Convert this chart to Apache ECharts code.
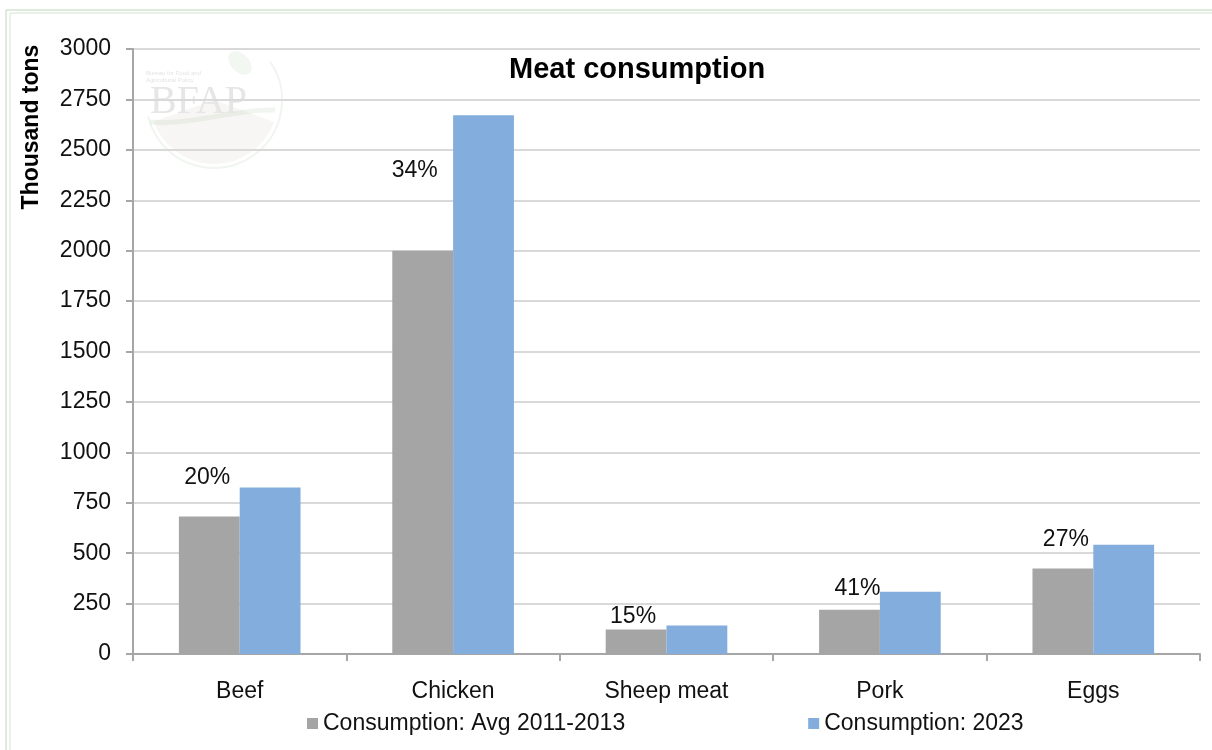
<!DOCTYPE html>
<html>
<head>
<meta charset="utf-8">
<script src="https://cdn.jsdelivr.net/npm/echarts@6/dist/echarts.min.js"></script>
<style>
html,body{margin:0;padding:0;background:#fff;}
#chart{width:1212px;height:750px;}
</style>
</head>
<body>
<div id="chart"></div>
<script>
var categories = ['Beef', 'Chicken', 'Sheep meat', 'Pork', 'Eggs'];
var avg2011_2013 = [682, 2000, 122, 219, 424];
var value2023 = [826, 2672, 141, 309, 542];
var growthLabels = ['20%', '34%', '15%', '41%', '27%'];
var seriesNames = ['Consumption: Avg 2011-2013', 'Consumption: 2023'];
var yTicks = { min: 0, max: 3000, interval: 250 };

var FONT = "'Liberation Sans', Arial, Helvetica, sans-serif";
// label lift above grey bar (px), per category
var labelLift = [27, 69, 1, 10, 17];
var labelShift = [-2, -8, -3, 8, 3];

var chart = echarts.init(document.getElementById('chart'), null, { renderer: 'canvas' });

var greyData = avg2011_2013.map(function (v, i) {
  return {
    value: v,
    label: {
      show: true,
      position: 'top',
      distance: labelLift[i],
      offset: [labelShift[i], 0],
      formatter: growthLabels[i],
      fontSize: 23,
      fontFamily: FONT,
      color: '#111'
    }
  };
});

var option = {
  backgroundColor: '#ffffff',
  animation: false,
  title: {
    text: 'Meat consumption',
    left: 509,
    top: 55,
    padding: 0,
    textStyle: { fontSize: 29, fontWeight: 'bold', fontFamily: FONT, color: '#000' }
  },
  legend: {
    left: 307,
    top: 712,
    padding: 0,
    itemGap: 183,
    itemWidth: 11,
    itemHeight: 11,
    icon: 'rect',
    textStyle: { fontSize: 23, fontFamily: FONT, color: '#111' },
    data: seriesNames
  },
  grid: { left: 133, right: 12, top: 49, bottom: 96, containLabel: false },
  xAxis: {
    type: 'category',
    data: categories,
    axisLine: { show: true, lineStyle: { color: '#a6a6a6', width: 2 } },
    axisTick: { show: true, length: 7, alignWithLabel: false, lineStyle: { color: '#a6a6a6', width: 2 } },
    axisLabel: { fontSize: 23, fontFamily: FONT, color: '#111', margin: 26 },
    splitLine: { show: false }
  },
  yAxis: {
    type: 'value',
    min: yTicks.min,
    max: yTicks.max,
    interval: yTicks.interval,
    axisLine: { show: true, lineStyle: { color: '#a6a6a6', width: 2 } },
    axisTick: { show: true, length: 7, lineStyle: { color: '#a6a6a6', width: 2 } },
    axisLabel: {
      fontSize: 23, fontFamily: FONT, color: '#111', margin: 22,
      formatter: function (v) { return String(v); }
    },
    splitLine: { show: true, lineStyle: { color: '#d9d9d9', width: 2 } }
  },
  series: [
    {
      name: seriesNames[0],
      type: 'bar',
      data: greyData,
      barGap: '0%',
      barCategoryGap: '43%',
      itemStyle: { color: '#a5a5a5' },
      z: 3
    },
    {
      name: seriesNames[1],
      type: 'bar',
      data: value2023,
      barGap: '0%',
      barCategoryGap: '43%',
      itemStyle: { color: '#82addc' },
      z: 3
    }
  ],
  graphic: [
    // frame
    { type: 'line', shape: { x1: 6, y1: 10, x2: 1212, y2: 10 }, style: { stroke: '#d3e3d0', lineWidth: 1.5 }, silent: true },
    { type: 'line', shape: { x1: 10, y1: 13, x2: 1212, y2: 13 }, style: { stroke: '#e2ece0', lineWidth: 1.5 }, silent: true },
    { type: 'line', shape: { x1: 6, y1: 10, x2: 6, y2: 750 }, style: { stroke: '#d3e3d0', lineWidth: 1.5 }, silent: true },
    { type: 'line', shape: { x1: 10, y1: 13, x2: 10, y2: 750 }, style: { stroke: '#e2ece0', lineWidth: 1.5 }, silent: true },
    // watermark logo
    { type: 'sector', shape: { cx: 214, cy: 100, r: 64, r0: 0, startAngle: 0.35, endAngle: 2.8 }, style: { fill: 'rgba(200,180,175,0.13)' }, silent: true, z: -10 },
    { type: 'arc', shape: { cx: 214, cy: 100, r: 68, startAngle: -0.6, endAngle: 2.9 }, style: { stroke: 'rgba(150,190,140,0.14)', lineWidth: 2, fill: null }, silent: true, z: -10 },
    { type: 'bezierCurve', shape: { x1: 150, y1: 122, x2: 275, y2: 110, cpx1: 190, cpy1: 126, cpx2: 240, cpy2: 108 }, style: { stroke: 'rgba(150,190,140,0.14)', lineWidth: 5, fill: null }, silent: true, z: -10 },
    { type: 'ellipse', shape: { cx: 240, cy: 63, rx: 9, ry: 14 }, rotation: 0.8, originX: 240, originY: 63, style: { fill: 'rgba(150,190,140,0.12)' }, silent: true, z: -10 },
    { type: 'text', x: 146, y: 70, style: { text: 'Bureau for Food and\nAgricultural Policy', font: '6px ' + FONT, fill: '#e4e4e4', lineHeight: 7 }, silent: true, z: -10 },
    { type: 'text', x: 150, y: 82, style: { text: 'BFAP', font: '40px "Liberation Serif", "DejaVu Serif", serif', fill: '#e6e6e6' }, silent: true, z: -10 },
    // y axis name
    {
      type: 'text',
      x: 32,
      y: 127,
      rotation: Math.PI / 2,
      style: {
        text: 'Thousand tons',
        font: 'bold 23px ' + FONT,
        fill: '#000',
        align: 'center',
        verticalAlign: 'middle',
        textAlign: 'center',
        textVerticalAlign: 'middle'
      }
    }
  ]
};

chart.setOption(option);
</script>
</body>
</html>
